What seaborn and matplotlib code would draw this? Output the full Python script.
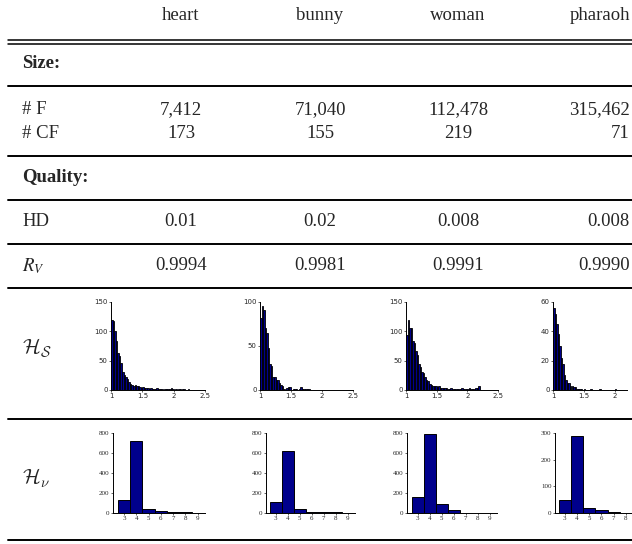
import numpy as np
import pandas as pd
import matplotlib
matplotlib.use('Agg')
import matplotlib.pyplot as plt
import seaborn as sns
from matplotlib.ticker import FormatStrFormatter

# table contents
models = ['heart', 'bunny', 'woman', 'pharaoh']
n_f = ['7,412', '71,040', '112,478', '315,462']
n_cf = ['173', '155', '219', '71']
hd = ['0.01', '0.02', '0.008', '0.008']
rv = ['0.9994', '0.9981', '0.9991', '0.9990']

# shape histograms (counts per bin of width 0.025, first bin starts at 1.0)
bin_w = 0.025
hs_heart = [120, 118, 100, 84, 63, 58, 46, 30, 25, 22, 18, 14, 10, 8, 7, 8, 6, 7, 5, 4,
            5, 4, 3, 4, 2, 3, 2, 1, 2, 3, 2, 1, 1, 0, 1, 1, 2, 1, 3, 1,
            0, 1, 0, 1, 1, 2, 1, 0, 0, 1]
hs_bunny = [82, 96, 91, 70, 65, 48, 30, 27, 15, 15, 11, 11, 8, 6, 4, 1, 0, 2, 3, 3,
            0, 1, 1, 1, 0, 1, 3, 1, 1, 1, 1, 1]
hs_woman = [94, 120, 105, 105, 83, 80, 67, 60, 44, 40, 31, 29, 23, 17, 15, 11, 9, 7, 6, 7,
            5, 6, 4, 4, 3, 3, 4, 2, 2, 3, 2, 2, 1, 2, 1, 2, 3, 2, 2, 2,
            2, 3, 2, 2, 2, 3, 4, 6]
hs_pharaoh = [56, 52, 45, 38, 30, 22, 18, 10, 7, 5, 5, 3, 3, 2, 2, 1, 1, 1, 1, 0,
              1, 0, 0, 0, 1, 0, 0, 0, 0, 0, 1, 0, 0, 0, 0, 0, 0, 0, 0, 0, 1]

# valence histograms
valence = [3, 4, 5, 6, 7, 8, 9]
hv_heart = [130, 720, 40, 25, 8, 8, 3]
hv_bunny = [115, 620, 45, 15, 15, 8, 3]
hv_woman = [160, 790, 90, 35, 3, 5, 5]
valence_ph = [3, 4, 5, 6, 7, 8]
hv_pharaoh = [50, 290, 20, 10, 3, 1]

W, H = 632, 544
navy = '#00008c'

sns.set_theme(style='white')
plt.rcParams['font.family'] = ['Liberation Serif', 'DejaVu Serif']
plt.rcParams['mathtext.fontset'] = 'cm'

fig = plt.figure(figsize=(W / 100, H / 100), dpi=100)
bg = fig.add_axes([0, 0, 1, 1])
bg.set_xlim(0, W)
bg.set_ylim(H, 0)
bg.axis('off')

fs = 13.5
col_x = [181, 320, 458]
left_x = 22


def row(y, label, vals, math=False):
    kw = {'math_fontfamily': 'stix'} if math else {}
    bg.text(left_x, y, label, fontsize=fs, va='center', ha='left', **kw)
    for x, v in zip(col_x, vals[:3]):
        bg.text(x, y, v, fontsize=fs, va='center', ha='center')
    bg.text(630, y, vals[3], fontsize=fs, va='center', ha='right')


# header
for x, m in zip(col_x, models[:3]):
    bg.text(x, 16, m, fontsize=fs, va='center', ha='center')
bg.text(630, 16, models[3], fontsize=fs, va='center', ha='right')

bg.text(left_x, 64, 'Size:', fontsize=fs, fontweight='bold', va='center')
row(110, '# F', n_f)
row(134, '# CF', n_cf)
bg.text(left_x, 178, 'Quality:', fontsize=fs, fontweight='bold', va='center')
row(222, 'HD', hd)
row(266, r'$R_V$', rv, math=True)
bg.text(left_x, 348, r'$\mathcal{H}_{\mathcal{S}}$', fontsize=15, va='center')
bg.text(left_x, 478, r'$\mathcal{H}_{\nu}$', fontsize=15, va='center')

# rules
for y in [39.5, 43.5]:
    bg.plot([8, W], [y, y], color='black', lw=1.1)
for y in [86, 155.5, 200, 244, 288, 419, 540]:
    bg.plot([8, W], [y, y], color='black', lw=1.4)


def px_axes(left, top, w, h):
    return fig.add_axes([left / W, 1 - (top + h) / H, w / W, h / H])


def style(ax, family, size):
    sns.despine(ax=ax)
    for s in ['left', 'bottom']:
        ax.spines[s].set_linewidth(0.7)
        ax.spines[s].set_color('black')
    ax.tick_params(labelsize=size, length=1.5, width=0.5, pad=1,
                   left=True, bottom=True)
    for lab in ax.get_xticklabels() + ax.get_yticklabels():
        lab.set_family(family)
    ax.set_xlabel('')
    ax.set_ylabel('')
    ax.patch.set_alpha(0)


# shape histograms row
hs_specs = [
    (hs_heart, 111, 94, (1, 2.5), [1, 1.5, 2, 2.5], (0, 150), [0, 50, 100, 150]),
    (hs_bunny, 260, 93, (1, 2.5), [1, 1.5, 2, 2.5], (0, 100), [0, 50, 100]),
    (hs_woman, 406, 92, (1, 2.5), [1, 1.5, 2, 2.5], (0, 150), [0, 50, 100, 150]),
    (hs_pharaoh, 553, 74, (1, 2.2), [1, 1.5, 2], (0, 60), [0, 20, 40, 60]),
]
for counts, left, w, xl, xt, yl, yt in hs_specs:
    ax = px_axes(left, 302, w, 88)
    n = len(counts)
    df = pd.DataFrame({'ratio': 1.0 + bin_w * (np.arange(n) + 0.5), 'count': counts})
    sns.histplot(data=df, x='ratio', weights='count', binwidth=bin_w,
                 binrange=(1.0, 1.0 + n * bin_w), color=navy,
                 edgecolor='black', linewidth=0.6, alpha=1, ax=ax)
    ax.set_xlim(xl)
    ax.set_ylim(yl)
    ax.set_xticks(xt)
    ax.set_yticks(yt)
    ax.xaxis.set_major_formatter(FormatStrFormatter('%g'))
    style(ax, 'DejaVu Sans', 5)

# valence histograms row
hv_specs = [
    (valence, hv_heart, 113, 92, (2.1, 9.6), (0, 800), [0, 200, 400, 600, 800]),
    (valence, hv_bunny, 266, 89, (2.2, 9.6), (0, 800), [0, 200, 400, 600, 800]),
    (valence, hv_woman, 407, 90, (2.1, 9.6), (0, 800), [0, 200, 400, 600, 800]),
    (valence_ph, hv_pharaoh, 555, 77, (2.2, 8.5), (0, 300), [0, 100, 200, 300]),
]
for xs, counts, left, w, xl, yl, yt in hv_specs:
    ax = px_axes(left, 433, w, 80)
    df = pd.DataFrame({'valence': xs, 'count': counts})
    sns.histplot(data=df, x='valence', weights='count', discrete=True, color=navy,
                 edgecolor='black', linewidth=0.7, alpha=1, ax=ax)
    ax.set_xlim(xl)
    ax.set_ylim(yl)
    ax.set_xticks(xs)
    ax.set_yticks(yt)
    style(ax, 'Liberation Serif', 5)

fig.savefig('out.png', dpi=100)
